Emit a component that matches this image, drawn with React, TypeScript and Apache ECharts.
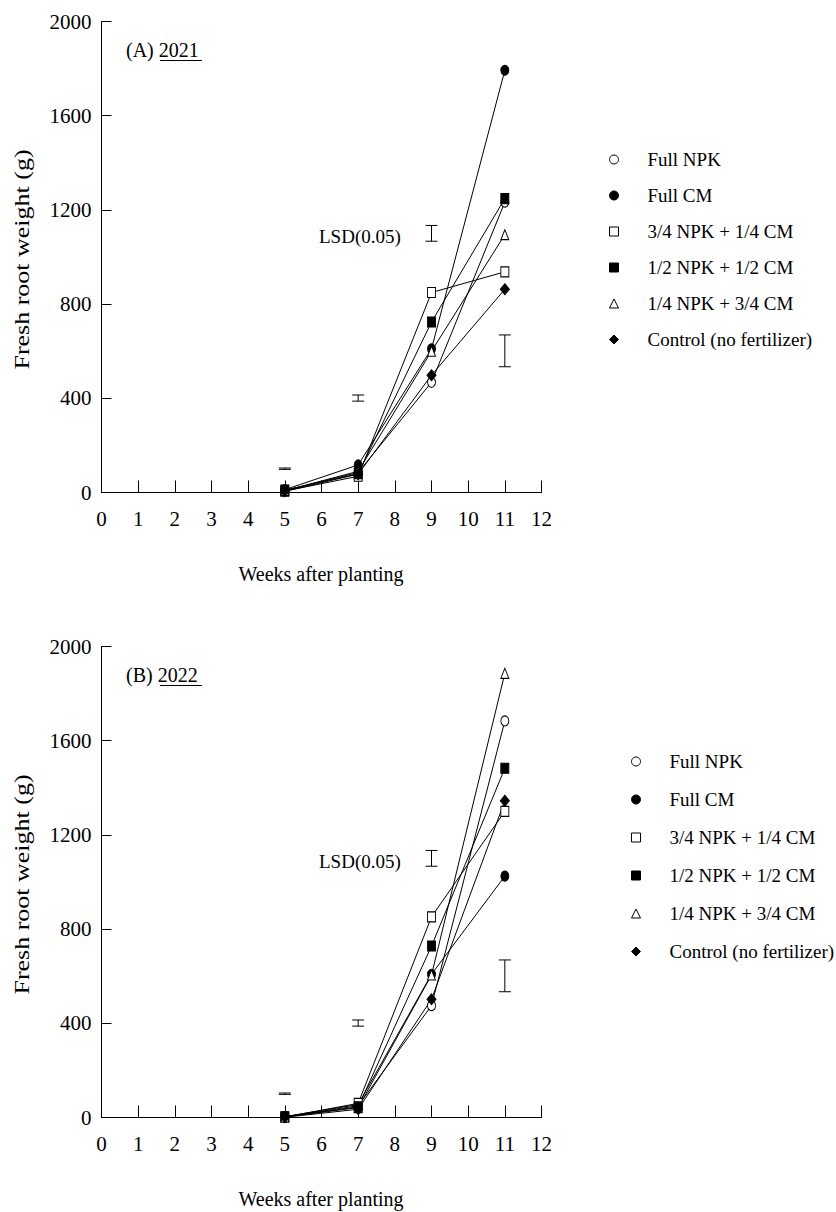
import React, { useEffect, useRef } from "react";
import * as echarts from "echarts";

const WEEKS = [5, 7, 9, 11];
const SERIES_NAMES = [
  "Full NPK",
  "Full CM",
  "3/4 NPK + 1/4 CM",
  "1/2 NPK + 1/2 CM",
  "1/4 NPK + 3/4 CM",
  "Control (no fertilizer)",
];

// 2021 fresh root weight (g)
const FULL_NPK_2021 = [8, 85, 468, 1233];
const FULL_CM_2021 = [12, 117, 610, 1793];
const NPK34_2021 = [6, 69, 849, 937];
const NPK12_2021 = [10, 80, 724, 1248];
const NPK14_2021 = [8, 90, 600, 1095];
const CONTROL_2021 = [5, 78, 498, 863];

// 2022 fresh root weight (g)
const FULL_NPK_2022 = [3, 50, 475, 1684];
const FULL_CM_2022 = [4, 55, 608, 1025];
const NPK34_2022 = [2, 60, 852, 1300];
const NPK12_2022 = [3, 45, 728, 1483];
const NPK14_2022 = [2, 42, 605, 1886];
const CONTROL_2022 = [1, 35, 502, 1345];

// LSD(0.05) bars
const LSD_LOW = [98, 388, 1067, 534];
const LSD_HIGH = [104, 414, 1134, 669];

const X_TICKS = [0, 12, 1];
const Y_TICKS = [0, 2000, 400];

const FONT = "'Liberation Serif', 'Times New Roman', serif";

const SYMBOLS = ["circle", "circle", "rect", "rect", "triangle", "diamond"];
const FILLS = ["#fff", "#000", "#fff", "#000", "#fff", "#000"];

export default function App() {
  const ref = useRef<HTMLDivElement>(null);

  useEffect(() => {
    if (!ref.current) return;
    const chart = echarts.init(ref.current, null, { renderer: "svg" });

    const data2021 = [FULL_NPK_2021, FULL_CM_2021, NPK34_2021, NPK12_2021, NPK14_2021, CONTROL_2021];
    const data2022 = [FULL_NPK_2022, FULL_CM_2022, NPK34_2022, NPK12_2022, NPK14_2022, CONTROL_2022];

    const lineSeries = (vals: number[][], axisIdx: number) =>
      vals.map((v, i) => ({
        type: "line",
        name: SERIES_NAMES[i],
        xAxisIndex: axisIdx,
        yAxisIndex: axisIdx,
        data: WEEKS.map((w, j) => [w, v[j]]),
        symbol: SYMBOLS[i],
        symbolSize: i === 5 ? [9, 11] : [8, 10],
        showSymbol: true,
        lineStyle: { color: "#000", width: 1 },
        itemStyle: { color: FILLS[i], borderColor: "#000", borderWidth: 1 },
        z: 3,
      }));

    const lsdData = WEEKS.map((w, j) => [w, LSD_LOW[j], LSD_HIGH[j]]);
    const errSeries = (axisIdx: number) => ({
      type: "custom",
      xAxisIndex: axisIdx,
      yAxisIndex: axisIdx,
      data: lsdData,
      renderItem: (params: any, api: any) => {
        const x = api.value(0);
        const lo = api.coord([x, api.value(1)]);
        const hi = api.coord([x, api.value(2)]);
        const w = 6;
        const st = { stroke: "#000", lineWidth: 1 };
        return {
          type: "group",
          children: [
            { type: "line", shape: { x1: lo[0], y1: lo[1], x2: hi[0], y2: hi[1] }, style: st },
            { type: "line", shape: { x1: lo[0] - w, y1: lo[1], x2: lo[0] + w, y2: lo[1] }, style: st },
            { type: "line", shape: { x1: hi[0] - w, y1: hi[1], x2: hi[0] + w, y2: hi[1] }, style: st },
          ],
        };
      },
      z: 2,
    });

    const gridL = 101.5;
    const gridW = 440;
    const gridH = 471;
    const tops = [21.5, 646.5];

    const xAxis = (idx: number) => ({
      type: "value",
      gridIndex: idx,
      min: X_TICKS[0],
      max: X_TICKS[1],
      interval: X_TICKS[2],
      axisLine: { show: true, lineStyle: { color: "#000", width: 1 } },
      axisTick: { show: true, inside: true, length: 12, lineStyle: { color: "#000" } },
      axisLabel: { color: "#000", fontFamily: FONT, fontSize: 21, margin: 16 },
      splitLine: { show: false },
    });
    const yAxis = (idx: number) => ({
      type: "value",
      gridIndex: idx,
      min: Y_TICKS[0],
      max: Y_TICKS[1],
      interval: Y_TICKS[2],
      axisLine: { show: true, lineStyle: { color: "#000", width: 1 } },
      axisTick: { show: true, inside: true, length: 10, lineStyle: { color: "#000" } },
      axisLabel: {
        color: "#000",
        fontFamily: FONT,
        fontSize: 21,
        margin: 10,
        formatter: (v: number) => String(v),
      },
      splitLine: { show: false },
    });

    const legendData = SERIES_NAMES.map((n, i) => ({
      name: n,
      icon: SYMBOLS[i],
      itemStyle: { color: FILLS[i], borderColor: "#000", borderWidth: 1 },
    }));
    const legend = (left: number, top: number, gap: number) => ({
      orient: "vertical",
      left,
      top,
      itemGap: gap,
      itemWidth: 9,
      itemHeight: 9,
      data: legendData,
      selectedMode: false,
      textStyle: { color: "#000", fontFamily: FONT, fontSize: 19, padding: [0, 0, 0, 24] },
    });

    const txt = (text: string, x: number, y: number, size: number, extra: any = {}) => ({
      type: "text",
      x,
      y,
      ...extra,
      style: {
        text,
        fill: "#000",
        font: `${size}px ${FONT}`,
        textAlign: extra.align || "left",
        textVerticalAlign: "middle",
      },
    });

    const graphic: any[] = [];
    const labels = [
      ["(A) ", "2021"],
      ["(B) ", "2022"],
    ];
    tops.forEach((t, k) => {
      // panel label
      graphic.push(txt(labels[k][0] + labels[k][1], 126, t + 28, 20));
      graphic.push({
        type: "line",
        shape: { x1: 160, y1: t + 39, x2: 202, y2: t + 39 },
        style: { stroke: "#000", lineWidth: 1 },
      });
      // LSD label
      graphic.push(txt("LSD(0.05)", 319, t + 214.5, 19));
      // x title
      graphic.push(txt("Weeks after planting", 321, t + gridH + 81, 20, { align: "center" }));
      // y title
      graphic.push({
        type: "text",
        x: 22.5,
        y: t + 238,
        rotation: Math.PI / 2,
        scaleX: 1.3,
        style: {
          text: "Fresh root weight (g)",
          fill: "#000",
          font: `20px ${FONT}`,
          textAlign: "center",
          textVerticalAlign: "middle",
        },
      });
    });

    chart.setOption({
      animation: false,
      backgroundColor: "#fff",
      grid: tops.map((t) => ({ left: gridL, top: t, width: gridW, height: gridH })),
      xAxis: [xAxis(0), xAxis(1)],
      yAxis: [yAxis(0), yAxis(1)],
      legend: [legend(604, 145, 17), legend(626, 747, 19)],
      series: [
        ...lineSeries(data2021, 0),
        errSeries(0),
        ...lineSeries(data2022, 1),
        errSeries(1),
      ],
      graphic,
    });

    return () => chart.dispose();
  }, []);

  return (
    <div
      ref={ref}
      style={{ position: "absolute", left: 0, top: 0, width: 836, height: 1212 }}
    />
  );
}
